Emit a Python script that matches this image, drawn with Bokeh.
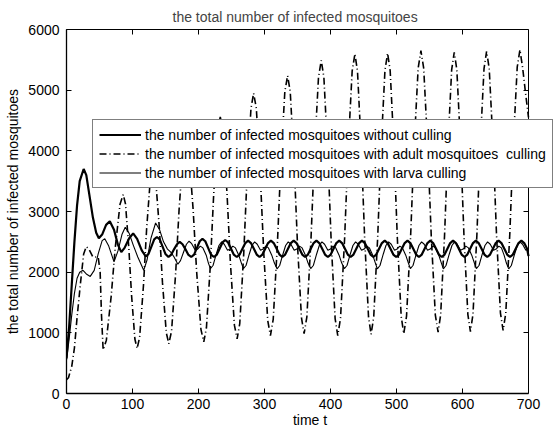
from bokeh.plotting import figure
from bokeh.models import Legend, LegendItem, LinearAxis, FixedTicker, Range1d
from bokeh.embed import file_html
from bokeh.resources import INLINE

# ---- data ----
t_adult = [0, 3, 8, 12, 16, 21, 26, 30, 34, 40, 48, 51, 53, 55.5,
           60.4, 67.7, 73.8, 81.1, 86, 89.4, 94.4, 98.6, 103.6, 107,
           110.8, 116.6, 121.4, 127.2, 131, 134.8, 140.6, 145.4, 151.2, 155,
           159.2, 165.4, 170.6, 176.8, 181, 185.3, 191.8, 197.2, 203.7, 208,
           212, 218, 223, 229, 233, 237.1, 243.2, 248.3, 254.4, 258.5,
           262.5, 268.5, 273.5, 279.5, 283.5, 287.6, 293.7, 298.8, 304.9, 309,
           313.2, 319.4, 324.6, 330.8, 335, 339, 345, 350, 356, 360,
           364.2, 370.4, 375.6, 381.8, 386, 390, 396, 401, 407, 411,
           415.2, 421.4, 426.6, 432.8, 437, 440.9, 446.8, 451.7, 457.6, 461.5,
           465.5, 471.5, 476.5, 482.5, 486.5, 490.4, 496.3, 501.2, 507.1, 511,
           515.2, 521.4, 526.6, 532.8, 537, 541.2, 547.4, 552.6, 558.8, 563,
           566.9, 572.8, 577.7, 583.6, 587.5, 591.4, 597.3, 602.2, 608.1, 612,
           615.9, 621.8, 626.7, 632.6, 636.5, 640.5, 646.5, 651.5, 657.5, 661.5,
           665.6, 671.7, 676.8, 682.9, 687, 691, 695, 700]
v_adult = [230, 260, 450, 750, 1250, 1800, 2300, 2420, 2380, 2250, 2250, 2000, 1300, 720,
           879, 1603, 2397, 3121, 3280, 3123, 2404, 1616, 898, 740,
           927, 1778, 2712, 3563, 3750, 3568, 2739, 1831, 1002, 820,
           1030, 1986, 3034, 3990, 4200, 3992, 3044, 2006, 1058, 850,
           1080, 2130, 3280, 4330, 4560, 4333, 3297, 2163, 1127, 900,
           1151, 2297, 3553, 4699, 4950, 4702, 3572, 2333, 1203, 955,
           1221, 2433, 3762, 4974, 5240, 4976, 3772, 2453, 1249, 985,
           1264, 2539, 3936, 5211, 5490, 5209, 3925, 2520, 1236, 955,
           1243, 2558, 3997, 5312, 5600, 5313, 4004, 2571, 1262, 975,
           1262, 2574, 4011, 5323, 5610, 5323, 4014, 2581, 1272, 985,
           1274, 2594, 4041, 5361, 5650, 5362, 4049, 2611, 1298, 1010,
           1296, 2602, 4033, 5339, 5625, 5339, 4036, 2609, 1306, 1020,
           1306, 2614, 4046, 5354, 5640, 5355, 4053, 2627, 1325, 1040,
           1327, 2636, 4069, 5378, 5665, 5380, 5000, 4550]

t_none = [0, 4, 8, 12, 16, 20, 26, 30, 35, 40, 45, 49, 54, 60, 65.6, 72, 78, 83, 88, 95,
          101, 107, 114, 120, 124.3, 128.6, 132.9, 137, 141.3, 145.6, 149.9, 154.5,
          158.8, 163.1, 167.4, 171.5, 175.8, 180.1, 184.4, 189, 193.3, 197.6, 201.9,
          206, 210.3, 214.6, 218.9, 223.5, 227.8, 232.1, 236.4, 240.5, 244.8, 249.1,
          253.4, 258, 262.3, 266.6, 270.9, 275.2, 279.5, 283.9, 288.2, 292.5,
          296.8, 301.1, 305.4, 309.7, 314, 318.4, 322.7, 327,
          331.3, 335.6, 339.9, 344.2, 348.5, 352.9, 357.2, 361.5,
          365.8, 370.1, 374.4, 378.7, 383, 387.4, 391.7, 396,
          400.3, 404.6, 408.9, 413.2, 417.5, 421.9, 426.2, 430.5,
          434.8, 439.1, 443.4, 447.7, 452, 456.4, 460.7, 465,
          469.3, 473.6, 477.9, 482.2, 486.5, 490.9, 495.2, 499.5,
          503.8, 508.1, 512.4, 516.7, 521, 525.4, 529.7, 534,
          538.3, 542.6, 546.9, 551.2, 555.5, 559.9, 564.2, 568.5,
          572.8, 577.1, 581.4, 585.7, 590, 594.4, 598.7, 603,
          607.3, 611.6, 615.9, 620.2, 624.5, 628.9, 633.2, 637.5,
          641.8, 646.1, 650.4, 654.7, 659, 663.4, 667.7, 672,
          676.3, 680.6, 684.9, 689.2, 693.5, 697.9, 700]
v_none = [580, 1100, 1800, 2500, 3100, 3500, 3700, 3600, 3250, 2900, 2650, 2560, 2620, 2780,
          2840, 2700, 2450, 2330, 2400, 2560, 2640, 2550, 2360, 2260, 2300, 2420, 2540, 2580,
          2540, 2420, 2300, 2250, 2290, 2380, 2460, 2500, 2460, 2380, 2290, 2250,
          2290, 2400, 2510, 2550, 2510, 2400, 2290, 2250, 2290, 2390, 2490, 2530,
          2490, 2390, 2290, 2250,
          2290, 2385, 2480, 2520, 2480, 2385, 2290, 2250,
          2290, 2385, 2480, 2520, 2480, 2385, 2290, 2250,
          2290, 2385, 2480, 2520, 2480, 2385, 2290, 2250,
          2290, 2385, 2480, 2520, 2480, 2385, 2290, 2250,
          2290, 2385, 2480, 2520, 2480, 2385, 2290, 2250,
          2290, 2385, 2480, 2520, 2480, 2385, 2290, 2250,
          2290, 2385, 2480, 2520, 2480, 2385, 2290, 2250,
          2290, 2385, 2480, 2520, 2480, 2385, 2290, 2250,
          2290, 2385, 2480, 2520, 2480, 2385, 2290, 2250,
          2290, 2385, 2480, 2520, 2480, 2385, 2290, 2250,
          2290, 2385, 2480, 2520, 2480, 2385, 2290, 2250,
          2290, 2385, 2480, 2520, 2480, 2385, 2290, 2250,
          2290, 2385, 2480, 2520, 2480, 2385, 2265]

t_larva = [0, 4, 8, 12, 16, 20, 25, 30, 36, 42, 48, 54, 58, 64, 72, 78, 84, 89, 95, 101, 108,
           117, 122, 128, 135, 141, 147, 153, 158, 163, 168.7,
           172.7, 177.7, 181.7, 185.7, 189.7, 194.7, 198.7, 202.7, 206.7, 211.7, 215, 218,
           222, 227, 231, 235, 239, 244, 248, 252, 256, 261, 265, 268,
           272, 277, 281, 285, 289, 294, 298, 302, 306, 311, 315, 319,
           323, 328, 332, 336, 340, 345, 349, 353, 357, 362, 366, 370,
           374, 379, 383, 387, 391, 396, 400, 404, 408, 413, 417, 421,
           425, 430, 434, 438, 442, 447, 451, 455, 459, 464, 468, 471,
           475, 480, 484, 488, 492, 497, 501, 505, 509, 514, 518, 521,
           525, 530, 534, 538, 542, 547, 551, 555, 559, 564, 568, 571,
           575, 580, 584, 588, 592, 597, 601, 605, 609, 614, 618, 621,
           625, 630, 634, 638, 642, 647, 651, 655, 659, 663, 666.5, 670,
           674, 679, 683, 687, 691, 696, 700]
v_larva = [550, 900, 1300, 1650, 1900, 2000, 2030, 1970, 1930, 2030, 2300, 2520, 2550, 2430,
           2170, 2350, 2620, 2740, 2640, 2450, 2250,
           2030, 2200, 2560, 2810, 2700, 2500, 2380, 2330, 2250, 2130,
           2190, 2340, 2460, 2510, 2470, 2370, 2380, 2430, 2400, 2280, 2150, 2060,
           2110, 2300, 2440, 2500, 2460, 2360, 2380, 2430, 2400, 2280, 2150, 2060,
           2110, 2300, 2440, 2500, 2460, 2360, 2380, 2430, 2400, 2280, 2150, 2055,
           2110, 2300, 2440, 2500, 2460, 2360, 2380, 2430, 2400, 2280, 2150, 2060,
           2110, 2300, 2440, 2500, 2460, 2360, 2380, 2430, 2400, 2280, 2150, 2060,
           2110, 2300, 2440, 2500, 2460, 2360, 2380, 2430, 2400, 2280, 2150, 2055,
           2110, 2300, 2440, 2500, 2460, 2360, 2380, 2430, 2400, 2280, 2150, 2060,
           2110, 2300, 2440, 2500, 2460, 2360, 2380, 2430, 2400, 2280, 2150, 2055,
           2110, 2300, 2440, 2500, 2460, 2360, 2380, 2430, 2400, 2280, 2150, 2060,
           2110, 2300, 2440, 2500, 2460, 2360, 2380, 2430, 2400, 2280, 2150, 2055,
           2110, 2300, 2440, 2500, 2460, 2360, 2380]

x_ticks = [0, 100, 200, 300, 400, 500, 600, 700]
y_ticks = [0, 1000, 2000, 3000, 4000, 5000, 6000]

title_text = "the total number of infected mosquitoes"
x_label = "time t"
y_label = "the total number of infected mosquitoes"
labels = ["the number of infected mosquitoes without culling",
          "the number of infected mosquitoes with adult mosquitoes  culling",
          "the number of infected mosquitoes with larva culling"]

FONT = "Liberation Sans"
FS = "14px"
X_MAX = 700
# frame spans to the window edge so that the legend can overhang the axes box
X_VIEW = X_MAX * 487 / 462

p = figure(width=554, height=431, output_backend="svg", toolbar_location=None,
           x_range=Range1d(0, X_VIEW), y_range=Range1d(0, 6000),
           min_border_left=66, min_border_right=1, min_border_top=29, min_border_bottom=38)
p.title.text = title_text
p.title.align = "left"
p.title.offset = 106
p.title.text_font = FONT
p.title.text_font_size = FS
p.title.text_font_style = "normal"
p.title.standoff = 10

p.grid.visible = False
p.outline_line_color = None
p.background_fill_color = "white"
p.border_fill_color = "white"

for ax in (p.xaxis[0], p.yaxis[0]):
    ax.major_tick_in = 5
    ax.major_tick_out = 0
    ax.minor_tick_line_color = None
    ax.axis_line_color = "black"
    ax.axis_line_width = 1.3
    ax.major_label_text_font = FONT
    ax.major_label_text_font_size = FS
    ax.major_label_text_color = "black"
    ax.axis_label_text_font = FONT
    ax.axis_label_text_font_size = FS
    ax.axis_label_text_font_style = "normal"
    ax.axis_label_text_color = "black"
p.xaxis[0].ticker = FixedTicker(ticks=x_ticks)
p.xaxis[0].bounds = (0, X_MAX)
p.yaxis[0].ticker = FixedTicker(ticks=y_ticks)
p.xaxis[0].axis_label = x_label
p.yaxis[0].axis_label = y_label
p.xaxis[0].major_label_standoff = 5
p.xaxis[0].axis_label_standoff = 0
p.yaxis[0].major_label_standoff = 7
p.yaxis[0].axis_label_standoff = 4

top = LinearAxis(ticker=FixedTicker(ticks=x_ticks), bounds=(0, X_MAX), major_label_text_color=None,
                 major_tick_in=5, major_tick_out=0, minor_tick_line_color=None,
                 axis_line_color="black", axis_line_width=1)
right = LinearAxis(ticker=FixedTicker(ticks=y_ticks), fixed_location=X_MAX, major_label_text_color=None,
                   major_tick_in=5, major_tick_out=0, minor_tick_line_color=None,
                   axis_line_color="black", axis_line_width=1)
p.add_layout(top, "above")
p.add_layout(right, "right")

r_none = p.line(t_none, v_none, line_color="black", line_width=2.2)
r_adult = p.line(t_adult, v_adult, line_color="black", line_width=1.6, line_dash="7 3 1 3")
r_larva = p.line(t_larva, v_larva, line_color="black", line_width=1.1)

legend = Legend(items=[LegendItem(label=labels[0], renderers=[r_none]),
                       LegendItem(label=labels[1], renderers=[r_adult]),
                       LegendItem(label=labels[2], renderers=[r_larva])],
                location=(26, 205), orientation="vertical",
                glyph_width=42, glyph_height=17, label_height=17, label_standoff=4,
                spacing=2, padding=6, margin=0,
                label_text_font=FONT, label_text_font_size=FS, label_text_color="black",
                border_line_color="black", border_line_width=1,
                background_fill_color="white", background_fill_alpha=1.0)
p.add_layout(legend, "center")

open("out.html", "w").write(file_html(p, INLINE))
